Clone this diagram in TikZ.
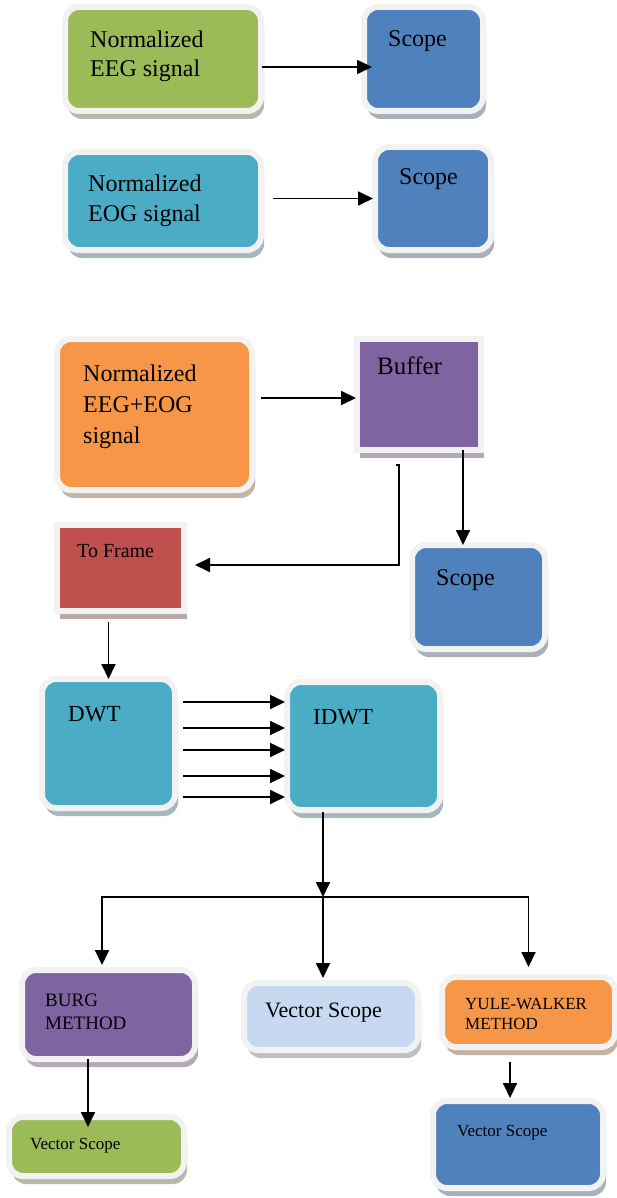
\documentclass[tikz,border=0pt]{standalone}
\usepackage{fontspec}
\setmainfont{Liberation Serif}
\usetikzlibrary{arrows.meta, positioning, calc, shadows}
\definecolor{boxgreen}{HTML}{9BBB59}
\definecolor{boxcyan}{HTML}{4BACC6}
\definecolor{boxblue}{HTML}{4F81BD}
\definecolor{boxorange}{HTML}{F79646}
\definecolor{boxpurple}{HTML}{8064A2}
\definecolor{boxred}{HTML}{C0504D}
\definecolor{boxpale}{HTML}{C6D9F1}
\tikzset{
x=1pt, y=-1pt,
>={Triangle[length=15pt,width=14pt]},
link/.style={->, line width=1.8pt, black},
box/.style={%
    rectangle,
    draw=black!5,
    line width=6pt,
    fill=#1,
    rounded corners=14pt,
    inner sep=0pt,
    outer sep=0pt,
    drop shadow={shadow xshift=3pt, shadow yshift=-8pt, fill=#1!45!black!40, opacity=1}
},
flatbox/.style={box=#1, sharp corners},
lbl/.style={anchor=base west, inner sep=0pt, align=left, text=black},
}

\begin{document}
\begin{tikzpicture}
\useasboundingbox (0,0) rectangle (616,1198);

% signals and scopes
\node[box=boxgreen, minimum width=196pt, minimum height=104pt] (eeg) at (163,59) {};
\node[box=boxblue, minimum width=119pt, minimum height=104pt] (scope1) at (423.5,59) {};
\node[box=boxcyan, minimum width=196pt, minimum height=98pt] (eog) at (163,201) {};
\node[box=boxblue, minimum width=116pt, minimum height=103pt] (scope2) at (433,198.5) {};
\node[box=boxorange, minimum width=195pt, minimum height=151pt] (mix) at (154.5,414.5) {};
\node[flatbox=boxpurple, minimum width=124pt, minimum height=111pt] (buffer) at (419,394.5) {};
\node[flatbox=boxred, minimum width=127pt, minimum height=86pt] (tof) at (120.5,568) {};
\node[box=boxblue, minimum width=133pt, minimum height=104pt] (scope3) at (478.5,597) {};

% wavelet stage
\node[box=boxcyan, minimum width=133pt, minimum height=129pt] (dwt) at (108.5,743.5) {};
\node[box=boxcyan, minimum width=153pt, minimum height=128pt] (idwt) at (363.5,746) {};

% estimators
\node[box=boxpurple, minimum width=173pt, minimum height=89pt] (burg) at (108.5,1014.5) {};
\node[box=boxpale, minimum width=174pt, minimum height=67pt] (vsmid) at (331,1016.5) {};
\node[box=boxorange, minimum width=173pt, minimum height=70pt] (yule) at (528.5,1012) {};
\node[box=boxgreen, minimum width=175pt, minimum height=59pt] (vsburg) at (96.5,1146.5) {};
\node[box=boxblue, minimum width=170pt, minimum height=87pt] (vsyule) at (518,1144.5) {};

% texts (base = last line)
\node[lbl, font=\fontsize{24}{29}\selectfont] (eeg-t) at (90,77) {Normalized\\EEG signal};
\node[lbl, font=\fontsize{24}{29}\selectfont] (scope1-t) at (388,47) {Scope};
\node[lbl, font=\fontsize{24}{30}\selectfont] (eog-t) at (88,222) {Normalized\\EOG signal};
\node[lbl, font=\fontsize{24}{29}\selectfont] (scope2-t) at (399,185) {Scope};
\node[lbl, font=\fontsize{24}{31}\selectfont] (mix-t) at (83,443) {Normalized\\EEG+EOG\\signal};
\node[lbl, font=\fontsize{25}{30}\selectfont] (buffer-t) at (377,374) {Buffer};
\node[lbl, font=\fontsize{20}{24}\selectfont] (tof-t) at (77,557) {To Frame};
\node[lbl, font=\fontsize{24}{29}\selectfont] (scope3-t) at (436,585) {Scope};
\node[lbl, font=\fontsize{23}{28}\selectfont] (dwt-t) at (68,721) {DWT};
\node[lbl, font=\fontsize{23}{28}\selectfont] (idwt-t) at (313,724) {IDWT};
\node[lbl, font=\fontsize{19}{23}\selectfont] (burg-t) at (45,1029) {BURG\\METHOD};
\node[lbl, font=\fontsize{22}{26}\selectfont] (vsmid-t) at (265,1017) {Vector Scope};
\node[lbl, font=\fontsize{17}{20}\selectfont] (yule-t) at (465,1029) {YULE-WALKER\\METHOD};
\node[lbl, font=\fontsize{17}{20}\selectfont] (vsburg-t) at (30,1149) {Vector Scope};
\node[lbl, font=\fontsize{17}{20}\selectfont] (vsyule-t) at (457,1136) {Vector Scope};

\coordinate (split) at (323,897);

% connectors
\draw[link] ([shift={(1pt,-8pt)}]eeg.east) -- ([shift={(8pt,-8pt)}]scope1.west);
\draw[link] ([xshift=12pt]eog.east |- scope2.west) -- ([xshift=-2pt]scope2.west);
\draw[link] ([shift={(9pt,16.5pt)}]mix.east) -- ([shift={(-1pt,-3.5pt)}]buffer.west);
\draw[link] ([xshift=44pt]buffer.south) -- ([xshift=44pt]buffer.south |- scope3.north);
\draw[link] ([shift={(-23pt,-15pt)}]buffer.south) -- ++(3pt,0) |- ([shift={(11pt,3pt)}]tof.east);
\draw[link] ([yshift=-11pt]tof.south -| dwt.north) -- (dwt.north);
\foreach \dy in {41.5,15.5,-6.5,-32.5,-53.5}
  \draw[link] ([shift={(8pt,\dy pt)}]dwt.east) -- ([shift={(-2pt,\dy pt)}]dwt.east -| idwt.west);
\draw[link] ([yshift=-2pt]idwt.south -| split) -- (split);
\draw[link] (split) -| ([shift={(-6.5pt,5pt)}]burg.north);
\draw[link] (split) -- ([shift={(-8pt,5pt)}]vsmid.north);
\draw[link] (split) -| ([yshift=10pt]yule.north);
\draw[link] ([xshift=-20.5pt]burg.south) -- ([shift={(-20.5pt,-10pt)}]burg.south |- vsburg.north);
\draw[link] ([shift={(-18.5pt,-15pt)}]yule.south) -- ([shift={(-18.5pt,3pt)}]yule.south |- vsyule.north);

\end{tikzpicture}
\end{document}
